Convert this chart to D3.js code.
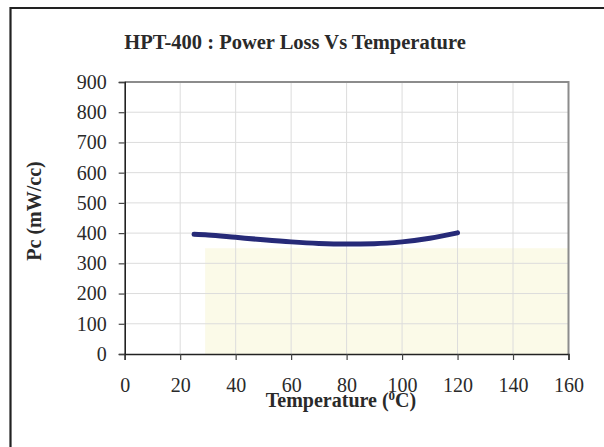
<!DOCTYPE html>
<html>
<head>
<meta charset="utf-8">
<script src="https://cdn.jsdelivr.net/npm/d3@7"></script>
<style>
  body { margin: 0; background: #fff; }
  text { font-family: "Liberation Serif", "DejaVu Serif", serif; }
</style>
</head>
<body>
<div id="chart"></div>
<script>
// data
let temps = [25, 30, 40, 50, 60, 70, 80, 90, 100, 110, 120];
let powerLoss = [396, 394, 386, 378, 371, 366, 364, 365, 371, 383, 401];
let xTicks = [0, 20, 40, 60, 80, 100, 120, 140, 160];
let yTicks = [0, 100, 200, 300, 400, 500, 600, 700, 800, 900];
let shadeTemps = [29, 160];
let shadeTop = 350;

let width = 604, height = 447;
let plotL = 124.7, plotR = 568.5, plotT = 82, plotB = 354;

let svg = d3.select('#chart').append('svg')
  .attr('width', width)
  .attr('height', height);

let x = d3.scaleLinear().domain([0, 160]).range([plotL, plotR]);
let y = d3.scaleLinear().domain([0, 900]).range([plotB, plotT]);

// outer frame (only top + left visible in the crop)
svg.append('path')
  .attr('d', `M10.5,${height} L10.5,8 L${width},8`)
  .attr('fill', 'none')
  .attr('stroke', '#222')
  .attr('stroke-width', 2.2);

// shaded area
svg.append('rect')
  .attr('x', x(shadeTemps[0]))
  .attr('y', y(shadeTop))
  .attr('width', x(shadeTemps[1]) - x(shadeTemps[0]))
  .attr('height', y(0) - y(shadeTop))
  .attr('fill', '#fbfae8');

// grid
svg.append('g').selectAll('line')
  .data(xTicks.slice(1))
  .enter().append('line')
  .attr('x1', d => x(d)).attr('x2', d => x(d))
  .attr('y1', plotT).attr('y2', plotB)
  .attr('stroke', '#dcdcdc').attr('stroke-width', 1);

svg.append('g').selectAll('line')
  .data(yTicks.slice(1))
  .enter().append('line')
  .attr('x1', plotL).attr('x2', plotR)
  .attr('y1', d => y(d)).attr('y2', d => y(d))
  .attr('stroke', '#dcdcdc').attr('stroke-width', 1);

// top + right border
svg.append('path')
  .attr('d', `M${plotL},${plotT} L${plotR},${plotT} L${plotR},${plotB}`)
  .attr('fill', 'none')
  .attr('stroke', '#8c8c8c')
  .attr('stroke-width', 2);

// axes
let xAxis = d3.axisBottom(x).tickValues(xTicks).tickSize(6).tickPadding(18);
let yAxis = d3.axisLeft(y).tickValues(yTicks).tickSize(6).tickPadding(12);

let gx = svg.append('g').attr('transform', `translate(0,${plotB})`).call(xAxis);
let gy = svg.append('g').attr('transform', `translate(${plotL},0)`).call(yAxis);

[gx, gy].forEach(g => {
  g.select('.domain').attr('stroke', '#222').attr('stroke-width', 1.6);
  g.selectAll('.tick line').attr('stroke', '#444').attr('stroke-width', 1.2);
  g.selectAll('.tick text')
    .attr('fill', '#2a2a2a')
    .style('font-family', '"Liberation Serif", serif')
    .style('font-size', '20px');
});

// curve
let line = d3.line()
  .x((d, i) => x(temps[i]))
  .y(d => y(d))
  .curve(d3.curveMonotoneX);

svg.append('path')
  .datum(powerLoss)
  .attr('d', line)
  .attr('fill', 'none')
  .attr('stroke', '#262a78')
  .attr('stroke-width', 5)
  .attr('stroke-linecap', 'round');

// title
svg.append('text')
  .attr('x', 295)
  .attr('y', 49)
  .attr('text-anchor', 'middle')
  .attr('fill', '#2a2a2a')
  .style('font-weight', 'bold')
  .style('font-size', '20.5px')
  .text('HPT-400 : Power Loss Vs Temperature');

// x axis title
let xt = svg.append('text')
  .attr('x', 341)
  .attr('y', 407)
  .attr('text-anchor', 'middle')
  .attr('fill', '#2a2a2a')
  .style('font-weight', 'bold')
  .style('font-size', '20px');
xt.append('tspan').text('Temperature (');
xt.append('tspan').attr('dy', -7).style('font-size', '13px').text('0');
xt.append('tspan').attr('dy', 7).text('C)');

// y axis title
svg.append('text')
  .attr('transform', 'translate(41,211) rotate(-90)')
  .attr('text-anchor', 'middle')
  .attr('fill', '#2a2a2a')
  .style('font-weight', 'bold')
  .style('font-size', '20px')
  .text('Pc (mW/cc)');
</script>
</body>
</html>
